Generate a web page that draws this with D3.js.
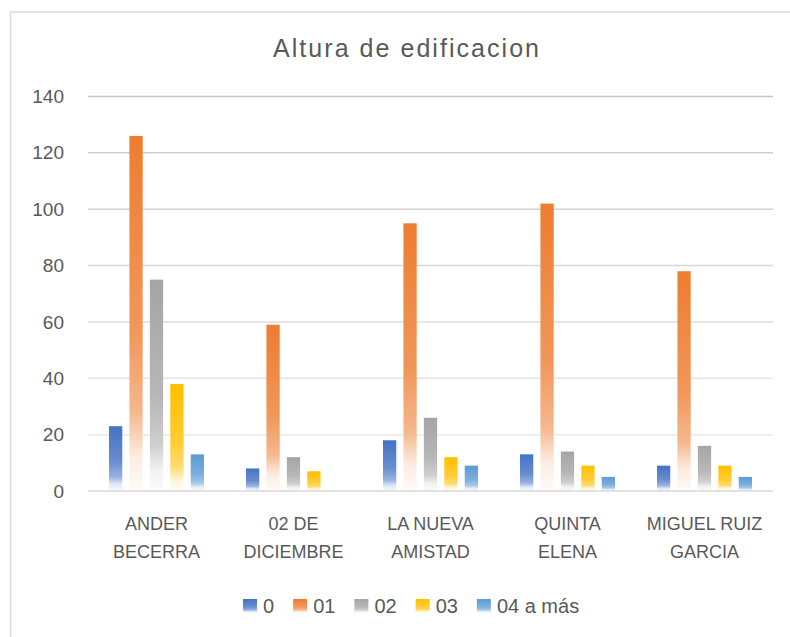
<!DOCTYPE html>
<html>
<head>
<meta charset="utf-8">
<script src="https://cdnjs.cloudflare.com/ajax/libs/d3/7.8.5/d3.min.js"></script>
<style>
  body { margin: 0; background: #fff; }
  svg { display: block; font-family: "Liberation Sans", Arial, sans-serif; }
</style>
</head>
<body>
<script>
// Chart data
const categories = [
  ["ANDER", "BECERRA"],
  ["02 DE", "DICIEMBRE"],
  ["LA NUEVA", "AMISTAD"],
  ["QUINTA", "ELENA"],
  ["MIGUEL RUIZ", "GARCIA"]
];
const seriesNames = ["0", "01", "02", "03", "04 a más"];
const seriesColors = ["#4472C4", "#ED7D31", "#A5A5A5", "#FFC000", "#5B9BD5"];
const values0 = [23, 8, 18, 13, 9];
const values01 = [126, 59, 95, 102, 78];
const values02 = [75, 12, 26, 14, 16];
const values03 = [38, 7, 12, 9, 9];
const values04 = [13, 0, 9, 5, 5];
const yTicks = [0, 20, 40, 60, 80, 100, 120, 140];

const seriesValues = [values0, values01, values02, values03, values04];

const width = 790;
const height = 637;
const margin = { top: 96.5, right: 17, bottom: 146, left: 88 };

const svg = d3
  .select("body")
  .append("svg")
  .attr("width", width)
  .attr("height", height);

// Gradient fills (solid at top, fading to white at the base)
const defs = svg.append("defs");
seriesColors.forEach((c, i) => {
  const g = defs
    .append("linearGradient")
    .attr("id", "grad" + i)
    .attr("x1", 0)
    .attr("y1", 0)
    .attr("x2", 0)
    .attr("y2", 1);
  const light = d3.interpolateRgb(c, "#ffffff");
  g.append("stop").attr("offset", "0%").attr("stop-color", c);
  g.append("stop").attr("offset", "55%").attr("stop-color", light(0.2));
  g.append("stop").attr("offset", "78%").attr("stop-color", light(0.45));
  g.append("stop").attr("offset", "90%").attr("stop-color", light(0.85));
  g.append("stop").attr("offset", "100%").attr("stop-color", light(0.97));
});

// Outer border (only top and left edges are in view)
svg
  .append("path")
  .attr("d", `M10.5,${height} V12 H${width}`)
  .attr("fill", "none")
  .attr("stroke", "#d9d9d9")
  .attr("stroke-width", 1.5);

// Title
svg
  .append("text")
  .attr("x", 406)
  .attr("y", 57)
  .attr("text-anchor", "middle")
  .attr("textLength", 266)
  .attr("lengthAdjust", "spacing")
  .style("font-size", "25px")
  .style("fill", "#595959")
  .text("Altura de edificacion");

const innerWidth = width - margin.left - margin.right;
const innerHeight = height - margin.top - margin.bottom;

const chart = svg
  .append("g")
  .attr("transform", `translate(${margin.left},${margin.top})`);

// Scales
const x0 = d3
  .scaleBand()
  .domain(d3.range(categories.length))
  .range([0, innerWidth]);

const x1 = d3
  .scaleBand()
  .domain(d3.range(seriesNames.length))
  .range([21, x0.bandwidth() - 21])
  .paddingInner(0.35);

const y = d3.scaleLinear().domain([0, 140]).range([innerHeight, 0]);

// Gridlines
const gridColor = d3.scaleLinear().domain([0, 140]).range(["#f0f0f0", "#c6c6c6"]);
chart
  .selectAll(".grid")
  .data(yTicks.filter((t) => t > 0))
  .enter()
  .append("line")
  .attr("class", "grid")
  .attr("x1", 0)
  .attr("x2", innerWidth)
  .attr("y1", (d) => y(d))
  .attr("y2", (d) => y(d))
  .attr("stroke", (d) => gridColor(d))
  .attr("stroke-width", 1.5);

// Y axis labels
const yAxis = d3.axisLeft(y).tickValues(yTicks).tickSize(0).tickPadding(24);
const yG = chart.append("g").call(yAxis);
yG.select(".domain").remove();
yG.selectAll("text")
  .style("font-size", "19px")
  .style("font-family", "Liberation Sans, Arial, sans-serif")
  .style("fill", "#595959");

// Bars
const groups = chart
  .selectAll(".cat")
  .data(categories)
  .enter()
  .append("g")
  .attr("class", "cat")
  .attr("transform", (d, i) => `translate(${x0(i)},0)`);

groups
  .selectAll("rect")
  .data((d, ci) => seriesValues.map((vals, si) => ({ si, v: vals[ci] })))
  .enter()
  .filter((d) => d.v > 0)
  .append("rect")
  .attr("x", (d) => x1(d.si))
  .attr("y", (d) => y(d.v))
  .attr("width", x1.bandwidth())
  .attr("height", (d) => y(0) - y(d.v))
  .attr("fill", (d) => `url(#grad${d.si})`);

// Baseline
chart
  .append("line")
  .attr("x1", 0)
  .attr("x2", innerWidth)
  .attr("y1", y(0))
  .attr("y2", y(0))
  .attr("stroke", "#d9d9d9")
  .attr("stroke-width", 1.5);

// Category labels
const catText = chart
  .selectAll(".cat-label")
  .data(categories)
  .enter()
  .append("text")
  .attr("class", "cat-label")
  .attr("text-anchor", "middle")
  .style("font-size", "18px")
  .style("fill", "#595959");

catText
  .selectAll("tspan")
  .data((d, i) => d.map((line) => ({ line, i })))
  .enter()
  .append("tspan")
  .attr("x", (d) => x0(d.i) + x0.bandwidth() / 2)
  .attr("y", (d, j) => innerHeight + 39 + j * 28)
  .text((d) => d.line);

// Legend
const legend = svg.append("g").attr("transform", "translate(243,599)");
let lx = 0;
seriesNames.forEach((name, i) => {
  const item = legend.append("g").attr("transform", `translate(${lx},0)`);
  item
    .append("rect")
    .attr("width", 14)
    .attr("height", 14)
    .attr("fill", `url(#grad${i})`);
  const t = item
    .append("text")
    .attr("x", 20)
    .attr("y", 14)
    .style("font-size", "20px")
    .style("fill", "#595959")
    .text(name);
  lx += 20 + t.node().getComputedTextLength() + 19;
});
</script>
</body>
</html>
